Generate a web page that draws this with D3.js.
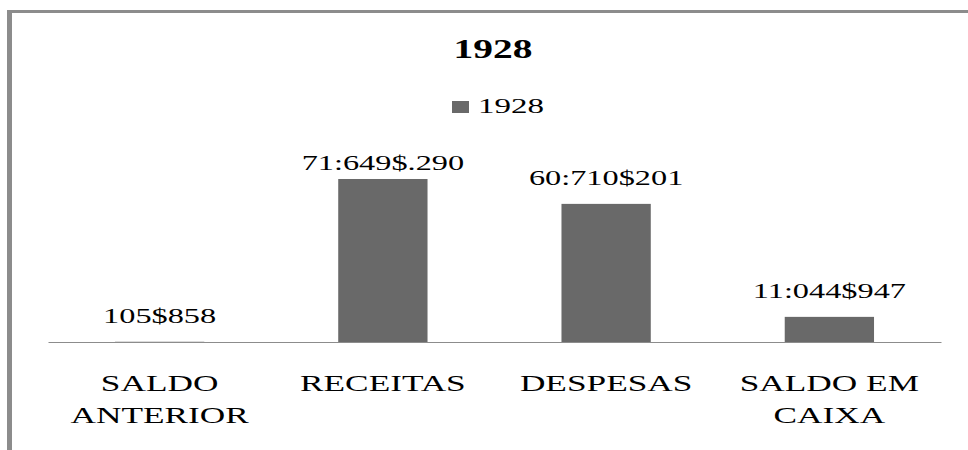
<!DOCTYPE html>
<html>
<head>
<meta charset="utf-8">
<script src="https://cdn.jsdelivr.net/npm/d3@7/dist/d3.min.js"></script>
<style>
  html, body { margin: 0; padding: 0; background: #fff; }
  svg text { font-family: 'Liberation Serif', 'DejaVu Serif', 'Times New Roman', serif; fill: #000; }
</style>
</head>
<body>
<div id="chart"></div>
<script>
'use strict';

// data
const categories = ['SALDO ANTERIOR', 'RECEITAS', 'DESPESAS', 'SALDO EM CAIXA'];
const categoryLines = [['SALDO', 'ANTERIOR'], ['RECEITAS'], ['DESPESAS'], ['SALDO EM', 'CAIXA']];
const values1928 = [105.858, 71649.290, 60710.201, 11044.947];
const valueLabels = ['105$858', '71:649$.290', '60:710$201', '11:044$947'];
const seriesName = '1928';
const chartTitle = '1928';

const W = 968, H = 450;
const stretch = 1.47; // text in the original is widened horizontally
const serif = "'Liberation Serif', 'DejaVu Serif', serif";

const svg = d3.select('#chart')
  .append('svg')
    .attr('width', W)
    .attr('height', H)
    .attr('font-family', serif);

// frame (only top and left edges show)
svg.append('rect')
    .attr('x', 7).attr('y', 10)
    .attr('width', W).attr('height', 3)
    .attr('fill', '#8c8c8c');
svg.append('rect')
    .attr('x', 7).attr('y', 10)
    .attr('width', 5).attr('height', H)
    .attr('fill', '#8c8c8c');

const x = d3.scaleBand()
    .domain(categories)
    .range([48, 941])
    .paddingInner(0.6)
    .paddingOuter(0.3);

const y = d3.scaleLinear()
    .domain([0, 80000])
    .range([342, 160]);

// title
svg.append('text')
    .attr('transform', `translate(493, 58) scale(1.46, 1)`)
    .attr('text-anchor', 'middle')
    .attr('font-weight', 'bold')
    .attr('font-size', 27)
    .text(chartTitle);

// legend
const legend = svg.append('g');
legend.append('rect')
    .attr('x', 452).attr('y', 101)
    .attr('width', 17).attr('height', 12)
    .attr('fill', '#696969');
legend.append('text')
    .attr('transform', `translate(478, 113) scale(1.5, 1)`)
    .attr('font-size', 22)
    .text(seriesName);

// bars
svg.append('g')
  .selectAll('rect')
  .data(values1928)
  .join('rect')
    .attr('x', (d, i) => x(categories[i]))
    .attr('y', d => y(d))
    .attr('width', x.bandwidth())
    .attr('height', d => y(0) - y(d))
    .attr('fill', '#696969');

// x axis: plain line, labels drawn below
const axis = svg.append('g')
    .attr('transform', `translate(0, ${y(0)})`)
    .call(d3.axisBottom(x).tickSize(0).tickSizeOuter(0).tickFormat(''));
axis.attr('font-family', serif);
axis.select('.domain').attr('stroke', '#8c8c8c').attr('stroke-width', 1);
axis.selectAll('.tick text').remove();
axis.selectAll('.tick').each(function(d, i) {
  const t = d3.select(this).append('text')
      .attr('transform', `translate(0, 49) scale(${stretch}, 1)`)
      .attr('text-anchor', 'middle')
      .attr('font-family', serif)
      .attr('font-size', 24);
  categoryLines[i].forEach((line, k) => {
    t.append('tspan')
        .attr('x', 0)
        .attr('dy', k === 0 ? 0 : 32)
        .text(line);
  });
});

// value labels
svg.append('g')
  .selectAll('text')
  .data(values1928)
  .join('text')
    .attr('transform', (d, i) => {
      const cx = x(categories[i]) + x.bandwidth() / 2;
      const ly = Math.max(y(d) - 19, 170);
      return `translate(${cx}, ${ly}) scale(${stretch}, 1)`;
    })
    .attr('text-anchor', 'middle')
    .attr('font-size', 22)
    .text((d, i) => valueLabels[i]);
</script>
</body>
</html>
